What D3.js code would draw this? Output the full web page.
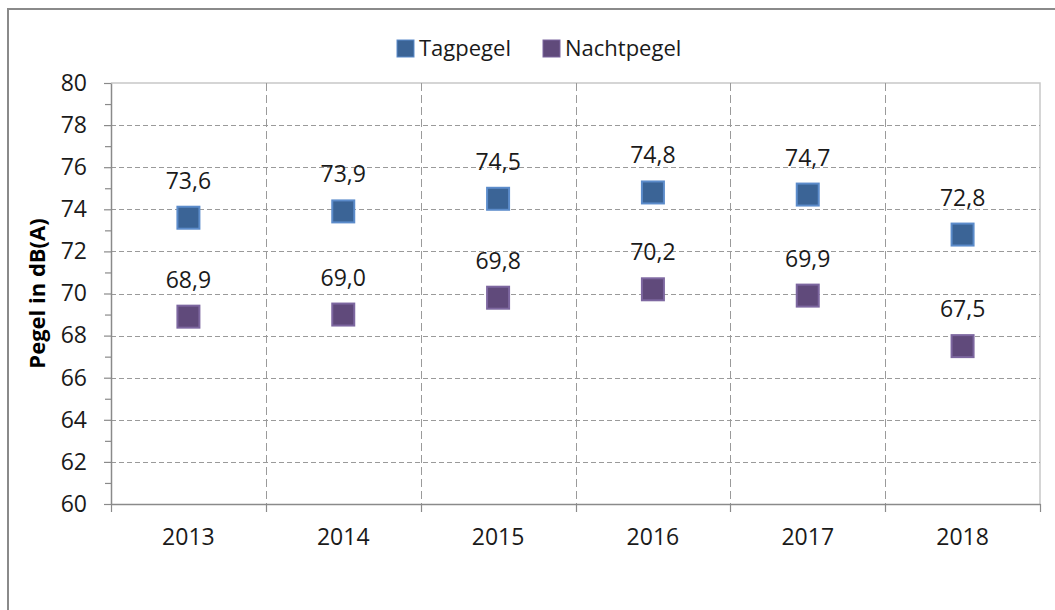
<!DOCTYPE html>
<html><head><meta charset="utf-8">
<script src="https://cdn.jsdelivr.net/npm/d3@7"></script>
<style>
html,body{margin:0;padding:0;background:#fff;}
svg{display:block;font-family:"Open Sans",sans-serif;}
</style></head>
<body>
<script>
const years = ["2013","2014","2015","2016","2017","2018"];
const tagpegel = [73.6, 73.9, 74.5, 74.8, 74.7, 72.8];
const nachtpegel = [68.9, 69.0, 69.8, 70.2, 69.9, 67.5];
const seriesNames = ["Tagpegel", "Nachtpegel"];
const yTicks = [60,62,64,66,68,70,72,74,76,78,80];
const yMinorTicks = [61,63,65,67,69,71,73,75,77,79];
const yTitle = "Pegel in dB(A)";

const W = 1055, H = 610;
const pLeft = 111, pRight = 1040, pTop = 83, pBottom = 504;
const colors = {Tagpegel: {fill: "#3b6496", stroke: "#5c8ccb"}, Nachtpegel: {fill: "#604a7b", stroke: "#7d67a0"}};

const svg = d3.select("body").append("svg").attr("width", W).attr("height", H);

// outer chart border (top and left visible)
svg.append("path").attr("d", `M8,${H} L8,9 L${W},9`).attr("fill","none").attr("stroke","#8a8a8a").attr("stroke-width",2);

const x = d3.scaleBand().domain(years).range([pLeft, pRight]).padding(0);
const y = d3.scaleLinear().domain([60, 80]).range([pBottom, pTop]);

// plot area border
svg.append("path").attr("d", `M${pLeft},${pTop} L${pRight},${pTop} L${pRight},${pBottom}`)
  .attr("fill","none").attr("stroke","#c8c8c8").attr("stroke-width",1.5);

// horizontal gridlines
svg.append("g").selectAll("line").data(yTicks.filter(t => t > 60 && t < 80)).join("line")
  .attr("x1", pLeft).attr("x2", pRight)
  .attr("y1", d => Math.round(y(d)) + 0.5).attr("y2", d => Math.round(y(d)) + 0.5)
  .attr("stroke", "#9a9a9a").attr("stroke-width", 1).attr("stroke-dasharray", "5,3");

// vertical gridlines at category boundaries
const bounds = years.slice(1).map(d => x(d));
svg.append("g").selectAll("line").data(bounds).join("line")
  .attr("x1", d => Math.round(d) + 0.5).attr("x2", d => Math.round(d) + 0.5)
  .attr("y1", pTop).attr("y2", pBottom)
  .attr("stroke", "#9a9a9a").attr("stroke-width", 1).attr("stroke-dasharray", "8,4");

// y axis
const yAxis = svg.append("g").attr("transform", `translate(${pLeft},0)`)
  .call(d3.axisLeft(y).tickValues(yTicks).tickFormat(d3.format("d")).tickSize(7).tickSizeOuter(0).tickPadding(17));
yAxis.select(".domain").attr("stroke", "#8a8a8a").attr("stroke-width", 1.5);
yAxis.selectAll(".tick line").attr("stroke", "#8a8a8a").attr("stroke-width", 1.2);
yAxis.selectAll("text").attr("font-size", 23).attr("fill", "#1a1a1a").attr("font-family", "Open Sans");
const yMinor = svg.append("g").attr("transform", `translate(${pLeft},0)`)
  .call(d3.axisLeft(y).tickValues(yMinorTicks).tickFormat("").tickSize(6).tickSizeOuter(0));
yMinor.select(".domain").remove();
yMinor.selectAll(".tick line").attr("stroke", "#8a8a8a").attr("stroke-width", 1.2);

// x axis
const xAxis = svg.append("g").attr("transform", `translate(0,${pBottom})`)
  .call(d3.axisBottom(x).tickSize(0).tickSizeOuter(0).tickPadding(25));
xAxis.select(".domain").attr("stroke", "#8a8a8a").attr("stroke-width", 1.5);
xAxis.selectAll("text").attr("font-size", 23).attr("fill", "#1a1a1a").attr("font-family", "Open Sans");
// boundary ticks
svg.append("g").selectAll("line").data(years.map(d => x(d)).concat([pRight])).join("line")
  .attr("x1", d => Math.round(d) + 0.5).attr("x2", d => Math.round(d) + 0.5)
  .attr("y1", pBottom).attr("y2", pBottom + 8)
  .attr("stroke", "#8a8a8a").attr("stroke-width", 1.2);

// y title
svg.append("text").attr("transform", `translate(45,${(pTop + pBottom) / 2}) rotate(-90)`)
  .attr("text-anchor", "middle").attr("font-size", 22).attr("font-weight", "bold")
  .attr("fill", "#000").text(yTitle);

// series markers + labels
const series = [{name: "Tagpegel", values: tagpegel}, {name: "Nachtpegel", values: nachtpegel}];
const fmt = v => d3.format(".1f")(v).replace(".", ",");
const ms = 22;
series.forEach(s => {
  const g = svg.append("g");
  g.selectAll("rect").data(s.values).join("rect")
    .attr("x", (d, i) => x(years[i]) + x.bandwidth() / 2 - ms / 2)
    .attr("y", d => y(d) - ms / 2)
    .attr("width", ms).attr("height", ms)
    .attr("fill", colors[s.name].fill).attr("stroke", colors[s.name].stroke).attr("stroke-width", 2);
  g.selectAll("text").data(s.values).join("text")
    .attr("x", (d, i) => x(years[i]) + x.bandwidth() / 2)
    .attr("y", d => y(d) - 29)
    .attr("text-anchor", "middle").attr("font-size", 23).attr("fill", "#1a1a1a")
    .text(fmt);
});

// legend
const legendItems = [{name: "Tagpegel", x: 397}, {name: "Nachtpegel", x: 543}];
const lg = svg.append("g");
legendItems.forEach(it => {
  lg.append("rect").attr("x", it.x).attr("y", 40).attr("width", 17).attr("height", 17)
    .attr("fill", colors[it.name].fill).attr("stroke", colors[it.name].stroke).attr("stroke-width", 1);
  lg.append("text").attr("x", it.x + 22).attr("y", 56).attr("font-size", 22).attr("fill", "#1a1a1a").text(it.name);
});
</script>
</body></html>
